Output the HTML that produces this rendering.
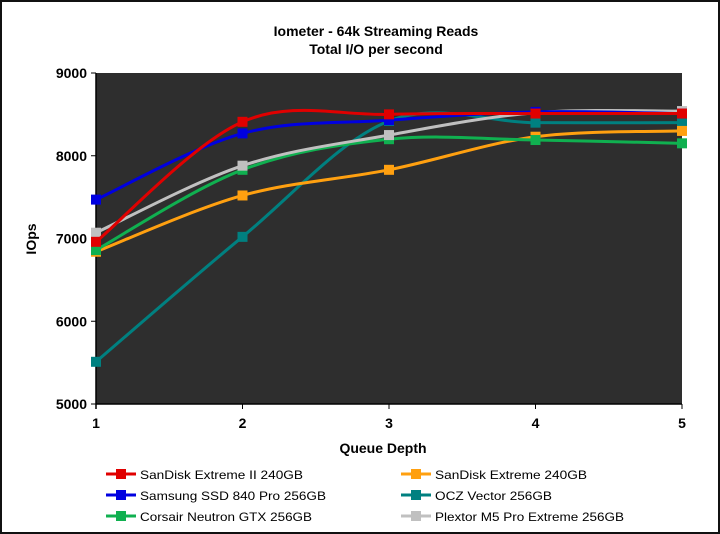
<!DOCTYPE html>
<html><head><meta charset="utf-8"><style>
html,body{margin:0;padding:0;background:#fff}
svg{display:block;font-family:"Liberation Sans",Arial,sans-serif}
</style></head><body>
<svg id="chart" width="720" height="534" viewBox="0 0 720 534">
<rect x="1" y="1" width="718" height="532" fill="#fff" stroke="#111" stroke-width="2"/>
<text x="376" y="36" text-anchor="middle" font-size="14" font-weight="bold">Iometer - 64k Streaming Reads</text>
<text x="376" y="54" text-anchor="middle" font-size="14" font-weight="bold">Total I/O per second</text>
<rect x="96" y="73" width="586" height="331" fill="#2e2e2e"/>
<g id="axes"></g>
<g id="series"></g>
<text x="383" y="453" text-anchor="middle" font-size="14" font-weight="bold">Queue Depth</text>
<text transform="translate(36,239) rotate(-90)" text-anchor="middle" font-size="14" font-weight="bold">IOps</text>
<g id="legend"></g>
</svg>
<script>
const categories = [1, 2, 3, 4, 5];
const yTicks = [5000, 6000, 7000, 8000, 9000];
const seriesNames = ["SanDisk Extreme II 240GB","SanDisk Extreme 240GB","Samsung SSD 840 Pro 256GB","OCZ Vector 256GB","Corsair Neutron GTX 256GB","Plextor M5 Pro Extreme 256GB"];
const seriesColors = ["#e00000","#ffa010","#0000e0","#008080","#10b050","#c0c0c0"];
const sandiskExtremeII = [6960, 8410, 8500, 8510, 8510];
const sandiskExtreme = [6840, 7520, 7830, 8230, 8300];
const samsung840Pro = [7470, 8270, 8430, 8530, 8510];
const oczVector = [5510, 7020, 8420, 8400, 8400];
const corsairNeutron = [6860, 7830, 8200, 8190, 8150];
const plextorM5 = [7070, 7880, 8250, 8520, 8540];
const seriesValues = [sandiskExtremeII, sandiskExtreme, samsung840Pro, oczVector, corsairNeutron, plextorM5];

const NS = "http://www.w3.org/2000/svg";
const L = 96, R = 682, T = 73, B = 404;
function xScale(c){ return L + (c - 1) / (categories.length - 1) * (R - L); }
function yScale(v){ return B - (v - 5000) / 4000 * (B - T); }
function mk(tag, attrs, parent){ const e = document.createElementNS(NS, tag); for (const k in attrs) e.setAttribute(k, attrs[k]); parent.appendChild(e); return e; }

const axes = document.getElementById("axes");
const ya = mk("line", {x1:L, y1:T, x2:L, y2:B+5, stroke:"#000", "stroke-width":1.5}, axes);


const xa = mk("line", {x1:L, y1:B, x2:R, y2:B, stroke:"#000", "stroke-width":1.5}, axes);


yTicks.forEach(v => {
  const y = yScale(v);
  mk("line", {x1:L-5, y1:y, x2:L, y2:y, stroke:"#000"}, axes);
  const t = mk("text", {x:L-9, y:y+5, "text-anchor":"end", "font-size":14, "font-weight":"bold"}, axes);
  t.textContent = v;
  
  
});
categories.forEach(c => {
  const x = xScale(c);
  mk("line", {x1:x, y1:B, x2:x, y2:B+5, stroke:"#000"}, axes);
  const t = mk("text", {x:x, y:B+24, "text-anchor":"middle", "font-size":14, "font-weight":"bold"}, axes);
  t.textContent = c;
  
  
});

function smoothPath(pts){
  let d = "M" + pts[0][0] + "," + pts[0][1];
  for (let i = 0; i < pts.length - 1; i++){
    const p0 = pts[Math.max(0,i-1)], p1 = pts[i], p2 = pts[i+1], p3 = pts[Math.min(pts.length-1,i+2)];
    const k = 1/6;
    const c1 = [p1[0] + (p2[0]-p0[0])*k, p1[1] + (p2[1]-p0[1])*k];
    const c2 = [p2[0] - (p3[0]-p1[0])*k, p2[1] - (p3[1]-p1[1])*k];
    d += " C" + c1 + " " + c2 + " " + p2;
  }
  return d;
}
const sg = document.getElementById("series");
const drawOrder = [3, 1, 4, 5, 2, 0];
drawOrder.forEach(si => {
  const g = mk("g", {}, sg);
  
  
  const pts = seriesValues[si].map((v, i) => [xScale(categories[i]), yScale(v)]);
  const p = mk("path", {d:smoothPath(pts), fill:"none", stroke:seriesColors[si], "stroke-width":3}, g);
  
  
  pts.forEach(pt => {
    const m = mk("rect", {x:pt[0]-5, y:pt[1]-5, width:10, height:10, fill:seriesColors[si]}, g);
    
    
  });
});

const lg = document.getElementById("legend");
const legendWidths = [163, 152, 186, 117, 172, 189];
seriesNames.forEach((n, i) => {
  const col = i % 2, row = Math.floor(i / 2);
  const x = 106 + col * 295, y = 474 + row * 21;
  const g = mk("g", {}, lg);
  
  
  mk("line", {x1:x, y1:y, x2:x+30, y2:y, stroke:seriesColors[i], "stroke-width":3}, g);
  mk("rect", {x:x+10, y:y-5, width:10, height:10, fill:seriesColors[i]}, g);
  const t = mk("text", {x:x+34, y:y+5, "font-size":12, textLength:legendWidths[i], lengthAdjust:"spacingAndGlyphs"}, g);
  t.textContent = n;
});
</script>
</body></html>
